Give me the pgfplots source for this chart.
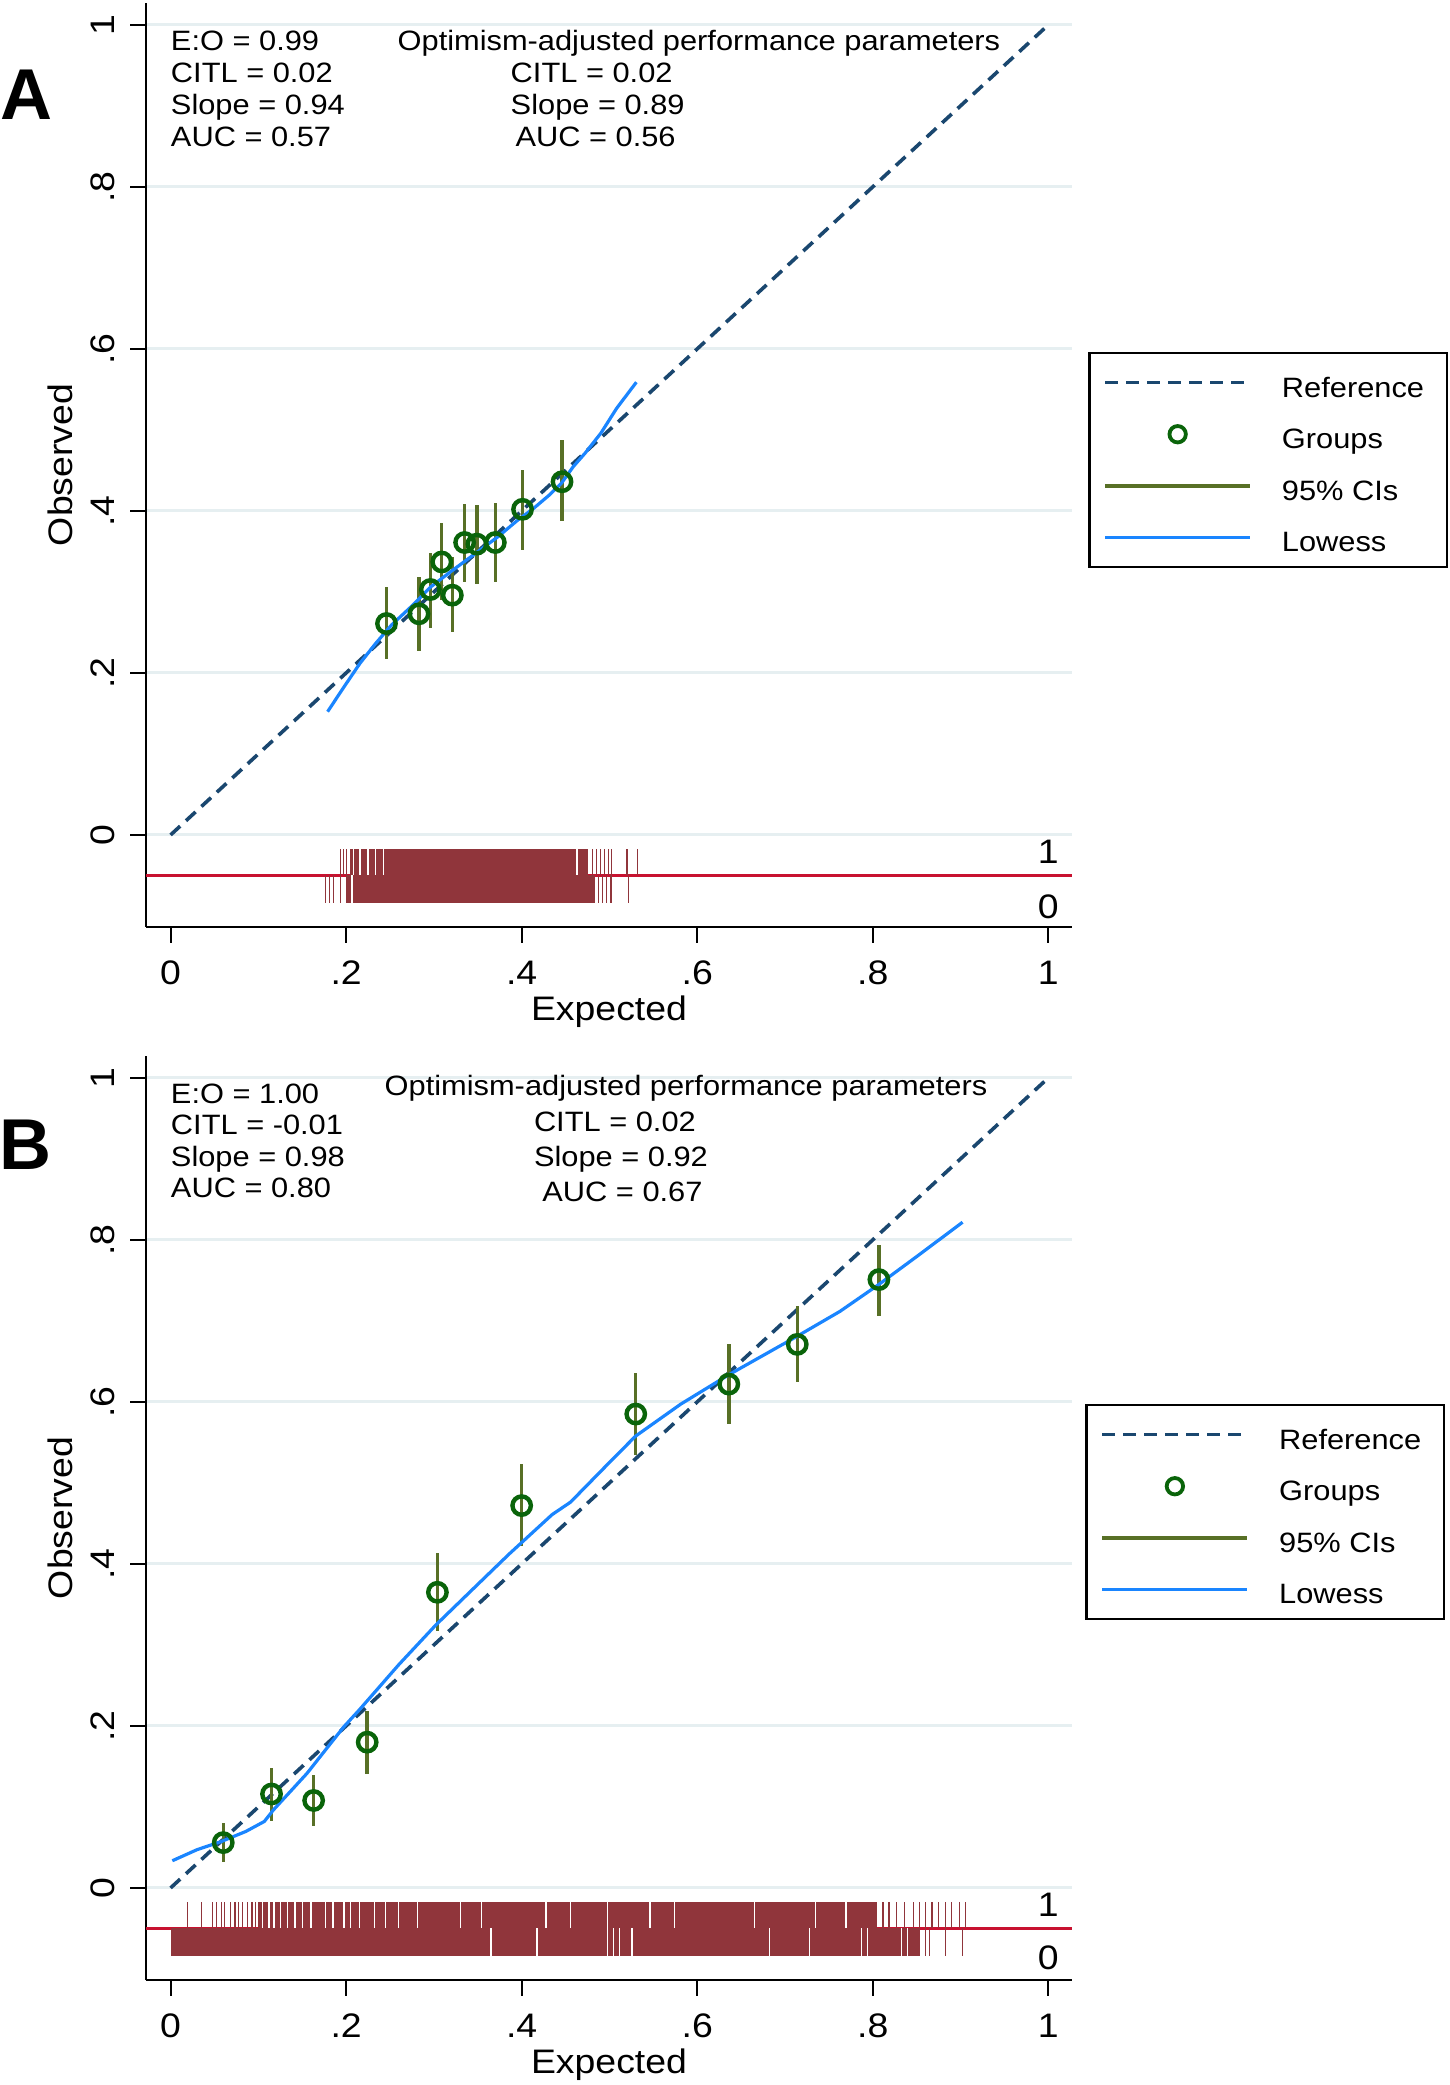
\documentclass[border=0pt]{standalone}
\usepackage{fontspec}
\setmainfont{Liberation Sans}[FakeStretch=1.1]
\newfontfamily\panelfont{Liberation Sans}
\usepackage{pgfplots}
\usepackage{pgfplotstable}
\pgfplotsset{compat=1.18}

\definecolor{refC}{RGB}{26,71,111}
\definecolor{grpC}{RGB}{10,100,10}
\definecolor{ciC}{RGB}{88,112,38}
\definecolor{lowC}{RGB}{26,133,255}
\definecolor{rugC}{RGB}{144,53,59}
\definecolor{lineC}{RGB}{200,18,48}
\definecolor{gridC}{RGB}{230,239,241}

\newcommand\tickfont{\fontsize{17}{20}\selectfont}
\newcommand\annfont{\fontsize{14}{16}\selectfont}
\newcommand\legy{0pt}

% groups: expected, observed, CI above, CI below
\pgfplotstableread{
x      y      ep     em
0.246  0.261  0.045  0.044
0.283  0.273  0.045  0.046
0.296  0.303  0.045  0.048
0.309  0.337  0.048  0.047
0.321  0.296  0.047  0.046
0.335  0.361  0.048  0.049
0.349  0.359  0.048  0.049
0.370  0.361  0.049  0.049
0.401  0.402  0.049  0.050
0.446  0.436  0.051  0.049
}\grpA

\pgfplotstableread{
x      y      ep     em
0.060  0.056  0.024  0.024
0.115  0.116  0.032  0.033
0.163  0.108  0.031  0.032
0.224  0.180  0.039  0.039
0.304  0.365  0.049  0.048
0.400  0.472  0.051  0.050
0.530  0.585  0.051  0.051
0.636  0.622  0.050  0.049
0.714  0.671  0.048  0.047
0.807  0.751  0.043  0.045
}\grpB

\pgfplotsset{
  calib/.style={
    width=463pt, height=462pt, scale only axis,
    xmin=-0.028, xmax=1.027, ymin=-0.1136, ymax=1.027,
    axis lines*=left,
    axis line style={line width=1pt, black},
    tick align=outside, major tick length=7.8pt,
    tick style={line width=1pt, black},
    xtick={0,0.2,0.4,0.6,0.8,1}, xticklabels={0,.2,.4,.6,.8,1},
    ytick={0,0.2,0.4,0.6,0.8,1}, yticklabels={0,.2,.4,.6,.8,1},
    ymajorgrids, grid style={line width=1.5pt, gridC},
    tick label style={font=\tickfont, inner sep=0pt},
    xticklabel style={anchor=north},
    yticklabel style={rotate=90, anchor=south},
    xticklabel shift=8.95pt, yticklabel shift=7.7pt,
    label style={font=\tickfont},
    xlabel={Expected}, ylabel={Observed},
    xlabel style={at={(axis description cs:0.5,-0.1014)}, anchor=base},
    ylabel style={at={(axis description cs:-0.0799,0.5)}, anchor=base},
    clip=false,
    legend cell align=left,
    legend style={draw=black, line width=1.15pt, fill=white, anchor=north west,
      font=\annfont, inner xsep=7pt, inner ysep=7.5pt,
      row sep=11.3pt, column sep=15pt,
      nodes={inner sep=0pt, text height=14.5pt, text depth=0pt}},
  },
  blk/.style={fill=rugC, draw=none, forget plot},
  spk1/.style={draw=none, mark=none, forget plot, error bars/.cd, y dir=both,
    y fixed=0.0165, error mark=none, error bar style={draw=rugC, line width=0.6pt}},
  spk0/.style={draw=none, mark=none, forget plot, error bars/.cd, y dir=both,
    y fixed=0.017, error mark=none, error bar style={draw=rugC, line width=0.6pt}},
  gap1/.style={draw=none, mark=none, forget plot, error bars/.cd, y dir=both,
    y fixed=0.0165, error mark=none, error bar style={draw=white, line width=0.7pt}},
  gap0/.style={draw=none, mark=none, forget plot, error bars/.cd, y dir=both,
    y fixed=0.017, error mark=none, error bar style={draw=white, line width=0.7pt}},
  refline/.style={refC, line width=1.8pt, dash pattern=on 6.5pt off 4pt,
    legend image code/.code={\draw[##1] (0pt,\legy) -- (72.5pt,\legy);}},
  grpmark/.style={only marks, mark=o, mark size=4.6pt, grpC, line width=2.2pt,
    mark options={solid, line width=2.2pt},
    legend image code/.code={\draw[##1, mark size=4.1pt, mark options={line width=1.9pt}]
      plot coordinates {(36.25pt,\legy)};}},
  cibars/.style={draw=none, mark=none,
    legend image code/.code={\draw[ciC, line width=1.7pt] (0pt,\legy) -- (72.5pt,\legy);},
    error bars/.cd, y dir=both, y explicit, error mark=none,
    error bar style={draw=ciC, line width=1.7pt}},
  lowline/.style={lowC, line width=1.6pt,
    legend image code/.code={\draw[##1] (0pt,\legy) -- (72.5pt,\legy);}},
}

\begin{document}
\begin{tikzpicture}
\path[use as bounding box] (0,0) rectangle (725pt,1042.5pt);

% ---------------- panel A
\begin{axis}[calib, at={(73pt,579pt)},
  legend style={at={(axis description cs:1.0175,0.6223)}}]
\addplot[lineC, line width=1.2pt, forget plot] coordinates {(-0.028,-0.05) (1.027,-0.05)};
\addplot[blk] coordinates {(0.2043,-0.05) (0.2043,-0.017) (0.4760,-0.017) (0.4760,-0.05)} -- cycle;
\addplot[blk] coordinates {(0.1994,-0.05) (0.1994,-0.084) (0.4830,-0.084) (0.4830,-0.05)} -- cycle;
\addplot[gap1] coordinates {(0.2087,-0.0335) (0.2157,-0.0335) (0.2247,-0.0335) (0.2337,-0.0335) (0.2427,-0.0335) (0.4632,-0.0335)};
\addplot[gap0] coordinates {(0.2067,-0.067)};
\addplot[spk1] coordinates {(0.1938,-0.0335) (0.1972,-0.0335) (0.2007,-0.0335) (0.4809,-0.0335) (0.4850,-0.0335) (0.4899,-0.0335) (0.4948,-0.0335) (0.4990,-0.0335) (0.5025,-0.0335) (0.5199,-0.0335) (0.5318,-0.0335)};
\addplot[spk0] coordinates {(0.1764,-0.067) (0.1813,-0.067) (0.1854,-0.067) (0.1938,-0.067) (0.4878,-0.067) (0.4920,-0.067) (0.4969,-0.067) (0.5017,-0.067) (0.5213,-0.067)};

\addplot[refline] coordinates {(0,0) (1,1)};
\addplot[grpmark] table[x=x, y=y] {\grpA};
\addplot[cibars] table[x=x, y=y, y error plus=ep, y error minus=em] {\grpA};
\addplot[lowline] coordinates {
(0.1789,0.1522) (0.1978,0.1831) (0.2158,0.2119) (0.2338,0.2366) (0.2518,0.2593)
(0.2742,0.2819) (0.2968,0.3066) (0.3193,0.3251) (0.3373,0.3395) (0.3553,0.3539)
(0.3732,0.3683) (0.3958,0.3889) (0.4138,0.4033) (0.4317,0.4198) (0.4453,0.4342)
(0.4588,0.4547) (0.4722,0.4712) (0.4902,0.4959) (0.5083,0.5268) (0.5307,0.5589)};
\legend{Reference\hspace*{4.5pt}, Groups, 95\% CIs, Lowess}

\node[font=\tickfont, inner sep=0pt] at (axis cs:1.0,-0.0206) {1};
\node[font=\tickfont, inner sep=0pt] at (axis cs:1.0,-0.0885) {0};

\node[font=\annfont, inner sep=0pt, anchor=base west] at (axis cs:0,0.9684) {E:O = 0.99};
\node[font=\annfont, inner sep=0pt, anchor=base west] at (axis cs:0,0.9287) {CITL = 0.02};
\node[font=\annfont, inner sep=0pt, anchor=base west] at (axis cs:0,0.8894) {Slope = 0.94};
\node[font=\annfont, inner sep=0pt, anchor=base west] at (axis cs:0,0.8499) {AUC = 0.57};
\node[font=\annfont, inner sep=0pt, anchor=base] at (axis cs:0.6020,0.9684) {Optimism-adjusted performance parameters};
\node[font=\annfont, inner sep=0pt, anchor=base west] at (axis cs:0.3871,0.9287) {CITL = 0.02};
\node[font=\annfont, inner sep=0pt, anchor=base west] at (axis cs:0.3871,0.8894) {Slope = 0.89};
\node[font=\annfont, inner sep=0pt, anchor=base west] at (axis cs:0.3926,0.8499) {AUC = 0.56};
\end{axis}

% ---------------- panel B
\begin{axis}[calib, at={(73pt,52.5pt)},
  legend style={at={(axis description cs:1.0145,0.6234)}}]
\addplot[lineC, line width=1.2pt, forget plot] coordinates {(-0.028,-0.05) (1.027,-0.05)};
\addplot[blk] coordinates {(0.0998,-0.05) (0.0998,-0.017) (0.8046,-0.017) (0.8046,-0.05)} -- cycle;
\addplot[blk] coordinates {(0.0007,-0.05) (0.0007,-0.084) (0.8535,-0.084) (0.8535,-0.05)} -- cycle;
\addplot[gap1] coordinates {(0.105,-0.0335) (0.112,-0.0335) (0.118,-0.0335) (0.125,-0.0335)
 (0.133,-0.0335) (0.1417,-0.0335) (0.150,-0.0335) (0.160,-0.0335) (0.1765,-0.0335)
 (0.185,-0.0335) (0.1975,-0.0335) (0.205,-0.0335) (0.215,-0.0335) (0.2324,-0.0335)
 (0.245,-0.0335) (0.260,-0.0335) (0.2812,-0.0335) (0.330,-0.0335) (0.3545,-0.0335)
 (0.4277,-0.0335) (0.4556,-0.0335) (0.4975,-0.0335) (0.5455,-0.0335) (0.5470,-0.0335)
 (0.5743,-0.0335) (0.665,-0.0335) (0.7348,-0.0335) (0.7697,-0.0335)};
\addplot[gap0] coordinates {(0.365,-0.067) (0.4173,-0.067) (0.4975,-0.067) (0.5045,-0.067)
 (0.5115,-0.067) (0.5255,-0.067) (0.6825,-0.067) (0.7278,-0.067) (0.7871,-0.067)
 (0.7941,-0.067) (0.8325,-0.067) (0.8395,-0.067)};
\addplot[spk1] coordinates {(0.0195,-0.0335) (0.0349,-0.0335) (0.0474,-0.0335) (0.0523,-0.0335)
 (0.0579,-0.0335) (0.0614,-0.0335) (0.0684,-0.0335) (0.0733,-0.0335) (0.0775,-0.0335)
 (0.0823,-0.0335) (0.0872,-0.0335) (0.0928,-0.0335) (0.0963,-0.0335)
 (0.8116,-0.0335) (0.8186,-0.0335) (0.8269,-0.0335) (0.8360,-0.0335) (0.8465,-0.0335)
 (0.8535,-0.0335) (0.8604,-0.0335) (0.8674,-0.0335) (0.8745,-0.0335) (0.8828,-0.0335)
 (0.8898,-0.0335) (0.8988,-0.0335) (0.9058,-0.0335)};
\addplot[spk0] coordinates {(0.8604,-0.067) (0.8650,-0.067) (0.8828,-0.067) (0.9023,-0.067)};

\addplot[refline] coordinates {(0,0) (1,1)};
\addplot[grpmark] table[x=x, y=y] {\grpB};
\addplot[cibars] table[x=x, y=y, y error plus=ep, y error minus=em] {\grpB};
\addplot[lowline] coordinates {
(0.002,0.0336) (0.030,0.0472) (0.0579,0.0574) (0.0858,0.0698) (0.1068,0.0821)
(0.1173,0.0965) (0.1347,0.1170) (0.1556,0.1417) (0.1765,0.1704) (0.1975,0.1991)
(0.2149,0.2197) (0.2603,0.2760) (0.3021,0.3245) (0.3440,0.3685) (0.3859,0.4124)
(0.4347,0.4609) (0.4557,0.4763) (0.4975,0.5225) (0.5297,0.5577) (0.5813,0.5973)
(0.6358,0.6334) (0.7138,0.6810) (0.7627,0.7118) (0.8067,0.7448) (0.8534,0.7821)
(0.9023,0.8218)};
\legend{Reference\hspace*{4.5pt}, Groups, 95\% CIs, Lowess}

\node[font=\tickfont, inner sep=0pt] at (axis cs:1.0,-0.0206) {1};
\node[font=\tickfont, inner sep=0pt] at (axis cs:1.0,-0.0863) {0};

\node[font=\annfont, inner sep=0pt, anchor=base west] at (axis cs:0,0.9678) {E:O = 1.00};
\node[font=\annfont, inner sep=0pt, anchor=base west] at (axis cs:0,0.9295) {CITL = -0.01};
\node[font=\annfont, inner sep=0pt, anchor=base west] at (axis cs:0,0.8912) {Slope = 0.98};
\node[font=\annfont, inner sep=0pt, anchor=base west] at (axis cs:0,0.8529) {AUC = 0.80};
\node[font=\annfont, inner sep=0pt, anchor=base] at (axis cs:0.5872,0.9783) {Optimism-adjusted performance parameters};
\node[font=\annfont, inner sep=0pt, anchor=base west] at (axis cs:0.4136,0.9338) {CITL = 0.02};
\node[font=\annfont, inner sep=0pt, anchor=base west] at (axis cs:0.4137,0.8906) {Slope = 0.92};
\node[font=\annfont, inner sep=0pt, anchor=base west] at (axis cs:0.4232,0.8474) {AUC = 0.67};
\end{axis}

\node[anchor=base west, inner sep=0pt, font=\panelfont\fontsize{36}{40}\selectfont\bfseries] at (0pt,982.5pt) {A};
\node[anchor=base west, inner sep=0pt, font=\panelfont\fontsize{36}{40}\selectfont\bfseries] at (-0.6pt,457.5pt) {B};
\end{tikzpicture}
\end{document}
